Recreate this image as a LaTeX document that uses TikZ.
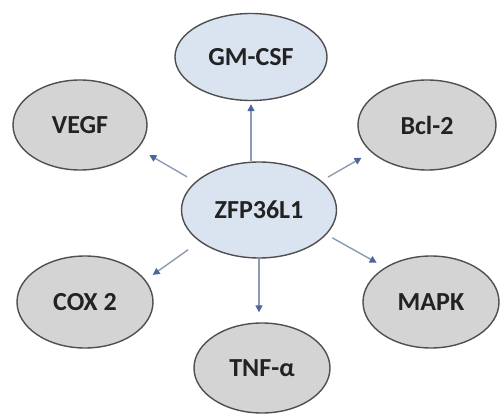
\documentclass[tikz,border=0pt]{standalone}
\usepackage{fontspec}
\setmainfont{Carlito}
\usetikzlibrary{shapes.geometric,arrows.meta}
\definecolor{bluefill}{HTML}{DAE3F0}
\definecolor{grayfill}{HTML}{D4D4D4}
\definecolor{edge}{HTML}{4F4F4F}
\definecolor{arrline}{HTML}{8C9AB3}
\definecolor{arrtip}{HTML}{4A669A}
\definecolor{txt}{HTML}{222222}
\tikzset{
  oval/.style={ellipse, draw=edge, line width=1.4pt, inner sep=0pt,
    font=\bfseries\fontsize{26}{30}\selectfont, text=txt},
  bluenode/.style={oval, fill=bluefill},
  graynode/.style={oval, fill=grayfill},
  arr/.style={draw=arrline, line width=1.4pt,
    -{Triangle[length=7pt,width=7pt,color=arrtip]}}
}
\begin{document}
\begin{tikzpicture}[x=1pt,y=-1pt]
\useasboundingbox (0,0) rectangle (501,417);
\node[bluenode, minimum width=152pt, minimum height=87pt] (g) at (251,57) {GM-CSF};
\node[bluenode, minimum width=155pt, minimum height=96pt] (z) at (259,210) {ZFP36L1};
\node[graynode, minimum width=134pt, minimum height=90pt] (v) at (80,125) {VEGF};
\node[graynode, minimum width=138pt, minimum height=90pt] (b) at (427,125) {Bcl-2};
\node[graynode, minimum width=136pt, minimum height=92pt] (c) at (85,302) {COX 2};
\node[graynode, minimum width=136pt, minimum height=92pt] (m) at (431,302) {MAPK};
\node[graynode, minimum width=136pt, minimum height=90pt] (t) at (262,368) {TNF-α};
\draw[arr, shorten >=3pt] (z.north -| g.south) -- (g.south);
\draw[arr, shorten >=10pt] (z.south) -- (z.south |- t.north);
\draw[arr, shorten <=9.6pt, shorten >=13pt] (z.156) -- (v.-22);
\draw[arr, shorten <=7.5pt, shorten >=11pt] (z.25) -- (b.-154);
\draw[arr, shorten <=14pt, shorten >=8.7pt] (z.-152) -- (c.20);
\draw[arr, shorten <=6.6pt, shorten >=9.5pt] (z.-20) -- (m.143);
\end{tikzpicture}
\end{document}
